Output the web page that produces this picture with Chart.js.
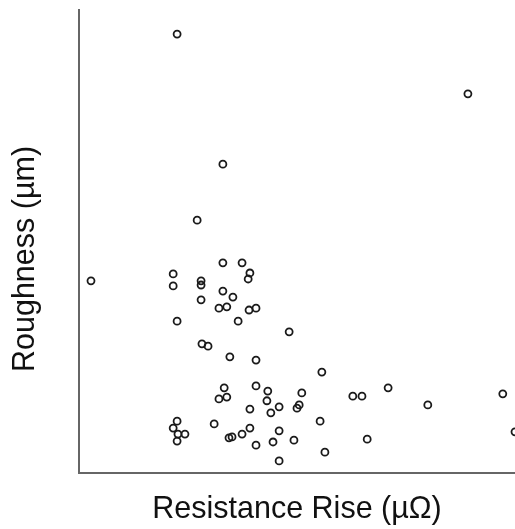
<!DOCTYPE html>
<html><head><meta charset="utf-8">
<script src="https://cdn.jsdelivr.net/npm/chart.js@4/dist/chart.umd.min.js"></script>
<style>html,body{margin:0;padding:0;background:#fff;overflow:hidden}</style>
</head><body>
<canvas id="c" width="515" height="529"></canvas>
<script>
const resistanceRise = [22.5, 89.2, 33.0, 27.1, 2.75, 33.0, 37.4, 39.2, 38.8, 21.6, 21.6, 28.0, 28.0, 33.0, 35.3, 28.0,
  32.1, 33.9, 39.0, 40.6, 22.5, 36.5, 48.2, 28.2, 29.6, 34.6, 40.6, 55.7, 33.3, 40.6, 43.3, 51.1,
  32.1, 33.9, 43.1, 45.9, 50.5, 50.0, 39.2, 44.0, 55.3, 31.0, 22.5, 21.6, 22.7, 24.3, 22.5, 39.2,
  45.9, 37.4, 34.4, 35.1, 44.5, 49.3, 40.6, 56.4, 45.9, 62.8, 64.9, 70.9, 97.2, 80.0, 66.1, 100.0];
const roughness = [9.48, 8.19, 6.67, 5.46, 4.15, 4.54, 4.54, 4.32, 4.19, 4.30, 4.04, 4.15, 4.06, 3.93, 3.80, 3.74,
  3.56, 3.59, 3.52, 3.56, 3.28, 3.28, 3.05, 2.79, 2.74, 2.51, 2.44, 2.18, 1.84, 1.88, 1.77, 1.73,
  1.60, 1.64, 1.56, 1.43, 1.47, 1.40, 1.38, 1.30, 1.12, 1.06, 1.12, 0.97, 0.84, 0.84, 0.69, 0.97,
  0.91, 0.84, 0.76, 0.78, 0.67, 0.71, 0.60, 0.45, 0.26, 1.66, 1.66, 1.84, 1.71, 1.47, 0.73, 0.89];
const xRange = [0, 100];
const yRange = [0, 10];
const xTitle = 'Resistance Rise (µΩ)';
const yTitle = 'Roughness (µm)';

const titleFont = {family: 'Liberation Sans, Arial, sans-serif', size: 30.5};

const yTitlePlugin = {
  id: 'yTitlePlugin',
  afterDraw(chart) {
    const ctx = chart.ctx;
    ctx.save();
    ctx.font = titleFont.size + 'px ' + titleFont.family;
    ctx.fillStyle = '#111';
    ctx.textAlign = 'center';
    ctx.textBaseline = 'middle';
    ctx.translate(26, 259);
    ctx.rotate(-Math.PI / 2);
    ctx.fillText(yTitle, 0, 0);
    ctx.restore();
  }
};

new Chart(document.getElementById('c'), {
  type: 'scatter',
  data: {
    datasets: [{
      data: resistanceRise.map((x, i) => ({x: x, y: roughness[i]})),
      pointRadius: 3.5,
      pointHoverRadius: 3.5,
      pointBorderWidth: 1.8,
      pointBorderColor: '#1a1a1a',
      pointBackgroundColor: 'rgba(0,0,0,0)'
    }]
  },
  options: {
    responsive: false,
    animation: false,
    events: [],
    layout: {autoPadding: false, padding: {top: 10, right: 0, bottom: 0, left: 0}},
    plugins: {legend: {display: false}, tooltip: {enabled: false}},
    scales: {
      x: {
        type: 'linear', min: xRange[0], max: xRange[1],
        ticks: {display: false},
        grid: {display: false, drawTicks: false},
        border: {display: true, color: '#666', width: 2},
        title: {display: true, text: xTitle, font: titleFont, color: '#111', padding: {top: 0, bottom: 1}},
        afterFit(s) { s.height = 56; }
      },
      y: {
        type: 'linear', min: yRange[0], max: yRange[1],
        ticks: {display: false},
        grid: {display: false, drawTicks: false},
        border: {display: true, color: '#666', width: 2},
        title: {display: false, text: yTitle},
        afterFit(s) { s.width = 79; }
      }
    }
  },
  plugins: [yTitlePlugin]
});
</script>
</body></html>
